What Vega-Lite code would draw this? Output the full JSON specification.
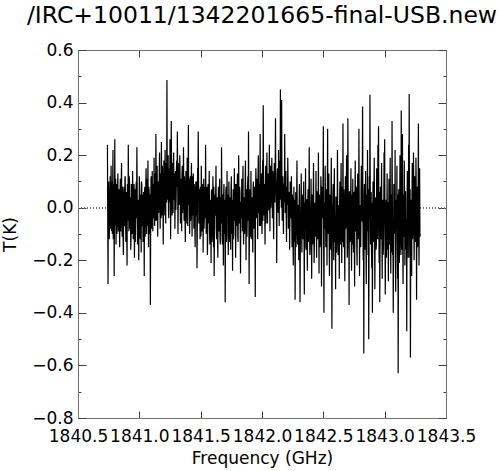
{
"$schema":"https://vega.github.io/schema/vega-lite/v6.json",
"autosize":{"type":"none"},
"padding":{"left":78,"top":50,"right":54,"bottom":53},
"width":368,"height":368,
"title":{"text":"/IRC+10011/1342201665-final-USB.new","font":"DejaVu Sans","fontSize":23.5,"fontWeight":"normal","color":"black","anchor":"middle","offset":14},
"data":{"values":[
{"f":1840.740,"t":0.24},{"f":1840.745,"t":-0.29},{"f":1840.750,"t":0.10},{"f":1840.755,"t":-0.12},{"f":1840.760,"t":0.05},{"f":1840.765,"t":-0.08},{"f":1840.770,"t":0.16},{"f":1840.775,"t":0.02},{"f":1840.780,"t":-0.10},{"f":1840.785,"t":0.22},{"f":1840.790,"t":-0.05},{"f":1840.795,"t":-0.26},{"f":1840.800,"t":0.26},{"f":1840.805,"t":0.03},{"f":1840.810,"t":-0.14},{"f":1840.815,"t":0.09},{"f":1840.820,"t":-0.03},{"f":1840.825,"t":0.13},{"f":1840.830,"t":-0.09},{"f":1840.835,"t":0.07},
{"f":1840.840,"t":-0.15},{"f":1840.845,"t":0.11},{"f":1840.850,"t":-0.02},{"f":1840.855,"t":0.17},{"f":1840.860,"t":-0.11},{"f":1840.865,"t":0.04},{"f":1840.870,"t":-0.18},{"f":1840.875,"t":0.08},{"f":1840.880,"t":-0.06},{"f":1840.885,"t":0.12},{"f":1840.890,"t":-0.13},{"f":1840.895,"t":0.02},{"f":1840.900,"t":-0.22},{"f":1840.905,"t":0.06},{"f":1840.910,"t":0.24},{"f":1840.915,"t":-0.09},{"f":1840.920,"t":0.10},{"f":1840.925,"t":-0.04},{"f":1840.930,"t":-0.16},{"f":1840.935,"t":0.09},
{"f":1840.940,"t":-0.07},{"f":1840.945,"t":0.14},{"f":1840.950,"t":-0.12},{"f":1840.955,"t":0.03},{"f":1840.960,"t":-0.19},{"f":1840.965,"t":0.07},{"f":1840.970,"t":-0.05},{"f":1840.975,"t":0.10},{"f":1840.980,"t":0.23},{"f":1840.985,"t":-0.14},{"f":1840.990,"t":0.01},{"f":1840.995,"t":-0.20},{"f":1841.000,"t":0.12},{"f":1841.005,"t":-0.08},{"f":1841.010,"t":0.05},{"f":1841.015,"t":-0.17},{"f":1841.020,"t":0.09},{"f":1841.025,"t":-0.03},{"f":1841.030,"t":-0.13},{"f":1841.035,"t":0.06},
{"f":1841.040,"t":-0.26},{"f":1841.045,"t":0.08},{"f":1841.050,"t":-0.06},{"f":1841.055,"t":0.15},{"f":1841.060,"t":-0.10},{"f":1841.065,"t":0.03},{"f":1841.070,"t":0.18},{"f":1841.075,"t":-0.15},{"f":1841.080,"t":0.06},{"f":1841.085,"t":-0.04},{"f":1841.090,"t":-0.37},{"f":1841.095,"t":0.11},{"f":1841.100,"t":-0.02},{"f":1841.105,"t":0.14},{"f":1841.110,"t":-0.09},{"f":1841.115,"t":0.07},{"f":1841.120,"t":0.19},{"f":1841.125,"t":-0.07},{"f":1841.130,"t":0.04},{"f":1841.135,"t":0.28},
{"f":1841.140,"t":-0.05},{"f":1841.145,"t":0.16},{"f":1841.150,"t":-0.11},{"f":1841.155,"t":0.10},{"f":1841.160,"t":0.02},{"f":1841.165,"t":0.21},{"f":1841.170,"t":-0.08},{"f":1841.175,"t":0.13},{"f":1841.180,"t":0.25},{"f":1841.185,"t":-0.03},{"f":1841.190,"t":0.09},{"f":1841.195,"t":-0.14},{"f":1841.200,"t":0.18},{"f":1841.205,"t":0.04},{"f":1841.210,"t":0.22},{"f":1841.215,"t":-0.06},{"f":1841.220,"t":0.12},{"f":1841.225,"t":0.486},{"f":1841.230,"t":0.03},{"f":1841.235,"t":0.20},
{"f":1841.240,"t":-0.04},{"f":1841.245,"t":0.15},{"f":1841.250,"t":0.26},{"f":1841.255,"t":-0.12},{"f":1841.260,"t":0.33},{"f":1841.265,"t":0.06},{"f":1841.270,"t":0.17},{"f":1841.275,"t":-0.02},{"f":1841.280,"t":0.21},{"f":1841.285,"t":0.09},{"f":1841.290,"t":-0.08},{"f":1841.295,"t":0.14},{"f":1841.300,"t":0.03},{"f":1841.305,"t":0.18},{"f":1841.310,"t":0.29},{"f":1841.315,"t":-0.10},{"f":1841.320,"t":0.12},{"f":1841.325,"t":0.01},{"f":1841.330,"t":0.20},{"f":1841.335,"t":-0.06},
{"f":1841.340,"t":0.11},{"f":1841.345,"t":-0.09},{"f":1841.350,"t":0.16},{"f":1841.355,"t":0.02},{"f":1841.360,"t":0.23},{"f":1841.365,"t":-0.05},{"f":1841.370,"t":0.08},{"f":1841.375,"t":-0.13},{"f":1841.380,"t":0.14},{"f":1841.385,"t":0.00},{"f":1841.390,"t":0.19},{"f":1841.395,"t":-0.07},{"f":1841.400,"t":0.315},{"f":1841.405,"t":0.05},{"f":1841.410,"t":-0.10},{"f":1841.415,"t":0.12},{"f":1841.420,"t":-0.02},{"f":1841.425,"t":0.17},{"f":1841.430,"t":-0.11},{"f":1841.435,"t":0.06},
{"f":1841.440,"t":0.13},{"f":1841.445,"t":-0.08},{"f":1841.450,"t":0.04},{"f":1841.455,"t":-0.15},{"f":1841.460,"t":0.10},{"f":1841.465,"t":-0.03},{"f":1841.470,"t":-0.23},{"f":1841.475,"t":0.15},{"f":1841.480,"t":0.29},{"f":1841.485,"t":-0.06},{"f":1841.490,"t":0.07},{"f":1841.495,"t":-0.12},{"f":1841.500,"t":0.02},{"f":1841.505,"t":0.16},{"f":1841.510,"t":-0.09},{"f":1841.515,"t":0.05},{"f":1841.520,"t":-0.17},{"f":1841.525,"t":0.11},{"f":1841.530,"t":-0.04},{"f":1841.535,"t":0.08},
{"f":1841.540,"t":0.24},{"f":1841.545,"t":-0.10},{"f":1841.550,"t":0.03},{"f":1841.555,"t":-0.18},{"f":1841.560,"t":0.09},{"f":1841.565,"t":-0.06},{"f":1841.570,"t":0.14},{"f":1841.575,"t":-0.14},{"f":1841.580,"t":0.00},{"f":1841.585,"t":-0.21},{"f":1841.590,"t":0.07},{"f":1841.595,"t":-0.09},{"f":1841.600,"t":0.12},{"f":1841.605,"t":-0.15},{"f":1841.610,"t":-0.26},{"f":1841.615,"t":0.05},{"f":1841.620,"t":-0.03},{"f":1841.625,"t":0.16},{"f":1841.630,"t":-0.12},{"f":1841.635,"t":0.02},
{"f":1841.640,"t":-0.19},{"f":1841.645,"t":0.08},{"f":1841.650,"t":-0.07},{"f":1841.655,"t":0.11},{"f":1841.660,"t":-0.14},{"f":1841.665,"t":0.01},{"f":1841.670,"t":0.23},{"f":1841.675,"t":-0.11},{"f":1841.680,"t":0.05},{"f":1841.685,"t":-0.22},{"f":1841.690,"t":0.09},{"f":1841.695,"t":-0.05},{"f":1841.700,"t":-0.36},{"f":1841.705,"t":0.06},{"f":1841.710,"t":-0.13},{"f":1841.715,"t":0.14},{"f":1841.720,"t":-0.02},{"f":1841.725,"t":-0.18},{"f":1841.730,"t":0.10},{"f":1841.735,"t":-0.08},
{"f":1841.740,"t":0.04},{"f":1841.745,"t":-0.16},{"f":1841.750,"t":0.12},{"f":1841.755,"t":-0.05},{"f":1841.760,"t":-0.24},{"f":1841.765,"t":0.07},{"f":1841.770,"t":-0.10},{"f":1841.775,"t":0.15},{"f":1841.780,"t":-0.02},{"f":1841.785,"t":-0.19},{"f":1841.790,"t":0.09},{"f":1841.795,"t":-0.07},{"f":1841.800,"t":0.13},{"f":1841.805,"t":-0.13},{"f":1841.810,"t":0.20},{"f":1841.815,"t":-0.04},{"f":1841.820,"t":0.06},{"f":1841.825,"t":-0.25},{"f":1841.830,"t":0.02},{"f":1841.835,"t":0.11},
{"f":1841.840,"t":-0.09},{"f":1841.845,"t":0.16},{"f":1841.850,"t":-0.14},{"f":1841.855,"t":0.03},{"f":1841.860,"t":-0.06},{"f":1841.865,"t":0.18},{"f":1841.870,"t":-0.20},{"f":1841.875,"t":0.07},{"f":1841.880,"t":-0.03},{"f":1841.885,"t":0.12},{"f":1841.890,"t":0.29},{"f":1841.895,"t":-0.29},{"f":1841.900,"t":0.05},{"f":1841.905,"t":-0.11},{"f":1841.910,"t":0.14},{"f":1841.915,"t":-0.08},{"f":1841.920,"t":0.01},{"f":1841.925,"t":-0.17},{"f":1841.930,"t":0.10},{"f":1841.935,"t":-0.04},
{"f":1841.940,"t":0.08},{"f":1841.945,"t":-0.34},{"f":1841.950,"t":0.15},{"f":1841.955,"t":-0.02},{"f":1841.960,"t":0.11},{"f":1841.965,"t":-0.12},{"f":1841.970,"t":0.20},{"f":1841.975,"t":0.04},{"f":1841.980,"t":-0.07},{"f":1841.985,"t":0.28},{"f":1841.990,"t":-0.05},{"f":1841.995,"t":0.13},{"f":1842.000,"t":-0.10},{"f":1842.005,"t":0.18},{"f":1842.010,"t":0.39},{"f":1842.015,"t":-0.03},{"f":1842.020,"t":0.09},{"f":1842.025,"t":-0.14},{"f":1842.030,"t":0.16},{"f":1842.035,"t":0.02},
{"f":1842.040,"t":0.21},{"f":1842.045,"t":-0.06},{"f":1842.050,"t":0.13},{"f":1842.055,"t":0.00},{"f":1842.060,"t":0.24},{"f":1842.065,"t":-0.09},{"f":1842.070,"t":0.15},{"f":1842.075,"t":0.05},{"f":1842.080,"t":0.19},{"f":1842.085,"t":-0.04},{"f":1842.090,"t":0.11},{"f":1842.095,"t":-0.12},{"f":1842.100,"t":0.17},{"f":1842.105,"t":0.02},{"f":1842.110,"t":0.34},{"f":1842.115,"t":0.08},{"f":1842.120,"t":-0.21},{"f":1842.125,"t":0.14},{"f":1842.130,"t":0.03},{"f":1842.135,"t":0.22},
{"f":1842.140,"t":-0.07},{"f":1842.145,"t":0.18},{"f":1842.150,"t":0.45},{"f":1842.155,"t":0.06},{"f":1842.160,"t":0.41},{"f":1842.165,"t":-0.05},{"f":1842.170,"t":0.12},{"f":1842.175,"t":-0.10},{"f":1842.180,"t":0.09},{"f":1842.185,"t":0.28},{"f":1842.190,"t":-0.02},{"f":1842.195,"t":0.14},{"f":1842.200,"t":-0.13},{"f":1842.205,"t":0.07},{"f":1842.210,"t":0.19},{"f":1842.215,"t":-0.08},{"f":1842.220,"t":0.04},{"f":1842.225,"t":-0.16},{"f":1842.230,"t":0.10},{"f":1842.235,"t":-0.04},
{"f":1842.240,"t":0.12},{"f":1842.245,"t":-0.15},{"f":1842.250,"t":0.02},{"f":1842.255,"t":-0.22},{"f":1842.260,"t":0.08},{"f":1842.265,"t":-0.09},{"f":1842.270,"t":-0.35},{"f":1842.275,"t":0.06},{"f":1842.280,"t":-0.03},{"f":1842.285,"t":0.18},{"f":1842.290,"t":-0.14},{"f":1842.295,"t":0.01},{"f":1842.300,"t":-0.20},{"f":1842.305,"t":0.09},{"f":1842.310,"t":-0.36},{"f":1842.315,"t":-0.05},{"f":1842.320,"t":0.13},{"f":1842.325,"t":-0.17},{"f":1842.330,"t":0.04},{"f":1842.335,"t":-0.11},
{"f":1842.340,"t":0.10},{"f":1842.345,"t":-0.33},{"f":1842.350,"t":-0.02},{"f":1842.355,"t":0.15},{"f":1842.360,"t":-0.16},{"f":1842.365,"t":0.03},{"f":1842.370,"t":-0.24},{"f":1842.375,"t":0.07},{"f":1842.380,"t":-0.08},{"f":1842.385,"t":0.23},{"f":1842.390,"t":-0.18},{"f":1842.395,"t":-0.04},{"f":1842.400,"t":0.11},{"f":1842.405,"t":-0.27},{"f":1842.410,"t":0.05},{"f":1842.415,"t":-0.12},{"f":1842.420,"t":0.17},{"f":1842.425,"t":-0.21},{"f":1842.430,"t":0.00},{"f":1842.435,"t":-0.09},
{"f":1842.440,"t":0.14},{"f":1842.445,"t":-0.19},{"f":1842.450,"t":0.06},{"f":1842.455,"t":-0.08},{"f":1842.460,"t":0.21},{"f":1842.465,"t":-0.25},{"f":1842.470,"t":0.03},{"f":1842.475,"t":-0.13},{"f":1842.480,"t":0.12},{"f":1842.485,"t":-0.30},{"f":1842.490,"t":0.08},{"f":1842.495,"t":-0.02},{"f":1842.500,"t":0.31},{"f":1842.505,"t":-0.40},{"f":1842.510,"t":0.02},{"f":1842.515,"t":0.16},{"f":1842.520,"t":-0.15},{"f":1842.525,"t":0.07},{"f":1842.530,"t":-0.22},{"f":1842.535,"t":0.30},
{"f":1842.540,"t":-0.10},{"f":1842.545,"t":0.13},{"f":1842.550,"t":-0.26},{"f":1842.555,"t":0.05},{"f":1842.560,"t":-0.14},{"f":1842.565,"t":0.19},{"f":1842.570,"t":-0.46},{"f":1842.575,"t":-0.03},{"f":1842.580,"t":0.09},{"f":1842.585,"t":-0.20},{"f":1842.590,"t":0.15},{"f":1842.595,"t":-0.08},{"f":1842.600,"t":-0.31},{"f":1842.605,"t":0.04},{"f":1842.610,"t":-0.12},{"f":1842.615,"t":0.22},{"f":1842.620,"t":-0.18},{"f":1842.625,"t":0.01},{"f":1842.630,"t":-0.27},{"f":1842.635,"t":0.10},
{"f":1842.640,"t":-0.06},{"f":1842.645,"t":0.17},{"f":1842.650,"t":-0.21},{"f":1842.655,"t":0.08},{"f":1842.660,"t":0.32},{"f":1842.665,"t":-0.15},{"f":1842.670,"t":0.02},{"f":1842.675,"t":-0.28},{"f":1842.680,"t":0.12},{"f":1842.685,"t":-0.04},{"f":1842.690,"t":0.20},{"f":1842.695,"t":-0.19},{"f":1842.700,"t":0.34},{"f":1842.705,"t":-0.09},{"f":1842.710,"t":-0.37},{"f":1842.715,"t":0.06},{"f":1842.720,"t":-0.13},{"f":1842.725,"t":0.15},{"f":1842.730,"t":-0.24},{"f":1842.735,"t":0.03},
{"f":1842.740,"t":0.11},{"f":1842.745,"t":-0.17},{"f":1842.750,"t":0.05},{"f":1842.755,"t":-0.30},{"f":1842.760,"t":0.18},{"f":1842.765,"t":-0.08},{"f":1842.770,"t":0.07},{"f":1842.775,"t":-0.22},{"f":1842.780,"t":0.13},{"f":1842.785,"t":-0.12},{"f":1842.790,"t":0.30},{"f":1842.795,"t":-0.26},{"f":1842.800,"t":0.01},{"f":1842.805,"t":-0.15},{"f":1842.810,"t":0.16},{"f":1842.815,"t":-0.05},{"f":1842.820,"t":0.385},{"f":1842.825,"t":-0.20},{"f":1842.830,"t":-0.555},{"f":1842.835,"t":0.09},
{"f":1842.840,"t":-0.11},{"f":1842.845,"t":0.14},{"f":1842.850,"t":-0.29},{"f":1842.855,"t":0.04},{"f":1842.860,"t":0.22},{"f":1842.865,"t":-0.18},{"f":1842.870,"t":-0.50},{"f":1842.875,"t":0.12},{"f":1842.880,"t":0.43},{"f":1842.885,"t":-0.14},{"f":1842.890,"t":0.06},{"f":1842.895,"t":-0.23},{"f":1842.900,"t":-0.40},{"f":1842.905,"t":0.10},{"f":1842.910,"t":-0.07},{"f":1842.915,"t":0.19},{"f":1842.920,"t":-0.31},{"f":1842.925,"t":0.02},{"f":1842.930,"t":-0.16},{"f":1842.935,"t":0.15},
{"f":1842.940,"t":-0.05},{"f":1842.945,"t":0.24},{"f":1842.950,"t":0.31},{"f":1842.955,"t":-0.21},{"f":1842.960,"t":-0.36},{"f":1842.965,"t":0.08},{"f":1842.970,"t":-0.12},{"f":1842.975,"t":0.17},{"f":1842.980,"t":-0.27},{"f":1842.985,"t":0.03},{"f":1842.990,"t":-0.15},{"f":1842.995,"t":0.21},{"f":1843.000,"t":0.26},{"f":1843.005,"t":-0.33},{"f":1843.010,"t":0.00},{"f":1843.015,"t":-0.19},{"f":1843.020,"t":0.13},{"f":1843.025,"t":-0.09},{"f":1843.030,"t":-0.28},{"f":1843.035,"t":0.11},
{"f":1843.040,"t":-0.14},{"f":1843.045,"t":0.19},{"f":1843.050,"t":-0.25},{"f":1843.055,"t":0.05},{"f":1843.060,"t":0.33},{"f":1843.065,"t":-0.18},{"f":1843.070,"t":-0.40},{"f":1843.075,"t":0.09},{"f":1843.080,"t":-0.08},{"f":1843.085,"t":0.22},{"f":1843.090,"t":-0.32},{"f":1843.095,"t":-0.02},{"f":1843.100,"t":0.16},{"f":1843.105,"t":-0.27},{"f":1843.110,"t":-0.63},{"f":1843.115,"t":0.07},{"f":1843.120,"t":-0.21},{"f":1843.125,"t":0.20},{"f":1843.130,"t":-0.12},{"f":1843.135,"t":0.37},
{"f":1843.140,"t":-0.16},{"f":1843.145,"t":0.28},{"f":1843.150,"t":-0.29},{"f":1843.155,"t":0.01},{"f":1843.160,"t":0.18},{"f":1843.165,"t":-0.22},{"f":1843.170,"t":0.06},{"f":1843.175,"t":-0.13},{"f":1843.180,"t":-0.47},{"f":1843.185,"t":0.14},{"f":1843.190,"t":-0.06},{"f":1843.195,"t":0.24},{"f":1843.200,"t":0.433},{"f":1843.205,"t":-0.19},{"f":1843.210,"t":-0.57},{"f":1843.215,"t":0.03},{"f":1843.220,"t":-0.26},{"f":1843.225,"t":0.17},{"f":1843.230,"t":-0.09},{"f":1843.235,"t":0.21},
{"f":1843.240,"t":-0.20},{"f":1843.245,"t":0.12},{"f":1843.250,"t":-0.04},{"f":1843.255,"t":0.19},{"f":1843.260,"t":-0.35},{"f":1843.265,"t":0.08},{"f":1843.270,"t":-0.14},{"f":1843.275,"t":0.32},{"f":1843.280,"t":-0.22},{"f":1843.285,"t":0.15},{"f":1843.290,"t":-0.10},
{"f":1840.7425,"t":-0.06},{"f":1840.7475,"t":0.08},{"f":1840.7525,"t":-0.11},{"f":1840.7575,"t":0.04},{"f":1840.7625,"t":0.12},{"f":1840.7675,"t":-0.03},{"f":1840.7725,"t":-0.09},{"f":1840.7775,"t":0.10},{"f":1840.7825,"t":0.06},{"f":1840.7875,"t":-0.12},{"f":1840.7925,"t":0.09},{"f":1840.7975,"t":0.01},{"f":1840.8025,"t":-0.07},{"f":1840.8075,"t":0.11},{"f":1840.8125,"t":0.04},{"f":1840.8175,"t":-0.10},{"f":1840.8225,"t":0.07},{"f":1840.8275,"t":-0.05},{"f":1840.8325,"t":0.03},{"f":1840.8375,"t":-0.08},
{"f":1840.8425,"t":0.05},{"f":1840.8475,"t":-0.09},{"f":1840.8525,"t":0.10},{"f":1840.8575,"t":-0.04},{"f":1840.8625,"t":0.08},{"f":1840.8675,"t":-0.12},{"f":1840.8725,"t":0.02},{"f":1840.8775,"t":-0.07},{"f":1840.8825,"t":0.11},{"f":1840.8875,"t":-0.02},{"f":1840.8925,"t":0.06},{"f":1840.8975,"t":-0.10},{"f":1840.9025,"t":0.09},{"f":1840.9075,"t":-0.05},{"f":1840.9125,"t":0.03},{"f":1840.9175,"t":0.12},{"f":1840.9225,"t":-0.08},{"f":1840.9275,"t":0.04},{"f":1840.9325,"t":-0.11},{"f":1840.9375,"t":0.01},
{"f":1840.9425,"t":-0.10},{"f":1840.9475,"t":0.05},{"f":1840.9525,"t":-0.03},{"f":1840.9575,"t":0.09},{"f":1840.9625,"t":-0.08},{"f":1840.9675,"t":-0.13},{"f":1840.9725,"t":0.06},{"f":1840.9775,"t":-0.04},{"f":1840.9825,"t":0.08},{"f":1840.9875,"t":-0.09},{"f":1840.9925,"t":0.03},{"f":1840.9975,"t":-0.06},{"f":1841.0025,"t":0.07},{"f":1841.0075,"t":-0.12},{"f":1841.0125,"t":0.02},{"f":1841.0175,"t":0.10},{"f":1841.0225,"t":-0.07},{"f":1841.0275,"t":0.05},{"f":1841.0325,"t":-0.10},{"f":1841.0375,"t":-0.01},
{"f":1841.0425,"t":0.06},{"f":1841.0475,"t":-0.11},{"f":1841.0525,"t":0.09},{"f":1841.0575,"t":-0.03},{"f":1841.0625,"t":0.11},{"f":1841.0675,"t":-0.07},{"f":1841.0725,"t":0.02},{"f":1841.0775,"t":0.08},{"f":1841.0825,"t":-0.10},{"f":1841.0875,"t":0.05},{"f":1841.0925,"t":-0.06},{"f":1841.0975,"t":0.12},{"f":1841.1025,"t":-0.08},{"f":1841.1075,"t":0.03},{"f":1841.1125,"t":0.09},{"f":1841.1175,"t":-0.04},{"f":1841.1225,"t":0.07},{"f":1841.1275,"t":0.13},{"f":1841.1325,"t":-0.05},{"f":1841.1375,"t":0.10},
{"f":1841.1425,"t":0.12},{"f":1841.1475,"t":0.00},{"f":1841.1525,"t":0.08},{"f":1841.1575,"t":-0.02},{"f":1841.1625,"t":0.15},{"f":1841.1675,"t":0.04},{"f":1841.1725,"t":0.11},{"f":1841.1775,"t":-0.04},{"f":1841.1825,"t":0.07},{"f":1841.1875,"t":0.16},{"f":1841.1925,"t":0.01},{"f":1841.1975,"t":0.09},{"f":1841.2025,"t":-0.03},{"f":1841.2075,"t":0.13},{"f":1841.2125,"t":0.06},{"f":1841.2175,"t":0.17},{"f":1841.2225,"t":0.02},{"f":1841.2275,"t":0.10},{"f":1841.2325,"t":0.15},{"f":1841.2375,"t":-0.01},
{"f":1841.2425,"t":0.09},{"f":1841.2475,"t":0.02},{"f":1841.2525,"t":0.14},{"f":1841.2575,"t":0.05},{"f":1841.2625,"t":0.18},{"f":1841.2675,"t":-0.03},{"f":1841.2725,"t":0.11},{"f":1841.2775,"t":0.16},{"f":1841.2825,"t":0.03},{"f":1841.2875,"t":0.13},{"f":1841.2925,"t":0.07},{"f":1841.2975,"t":-0.01},{"f":1841.3025,"t":0.15},{"f":1841.3075,"t":0.08},{"f":1841.3125,"t":0.12},{"f":1841.3175,"t":0.02},{"f":1841.3225,"t":0.17},{"f":1841.3275,"t":0.06},{"f":1841.3325,"t":0.10},{"f":1841.3375,"t":0.01},
{"f":1841.3425,"t":0.07},{"f":1841.3475,"t":0.13},{"f":1841.3525,"t":-0.02},{"f":1841.3575,"t":0.09},{"f":1841.3625,"t":0.04},{"f":1841.3675,"t":0.12},{"f":1841.3725,"t":-0.04},{"f":1841.3775,"t":0.06},{"f":1841.3825,"t":0.10},{"f":1841.3875,"t":-0.06},{"f":1841.3925,"t":0.08},{"f":1841.3975,"t":0.14},{"f":1841.4025,"t":0.01},{"f":1841.4075,"t":0.11},{"f":1841.4125,"t":0.03},{"f":1841.4175,"t":-0.05},{"f":1841.4225,"t":0.09},{"f":1841.4275,"t":0.02},{"f":1841.4325,"t":0.12},{"f":1841.4375,"t":-0.03},
{"f":1841.4425,"t":0.03},{"f":1841.4475,"t":0.09},{"f":1841.4525,"t":-0.07},{"f":1841.4575,"t":0.05},{"f":1841.4625,"t":-0.02},{"f":1841.4675,"t":0.10},{"f":1841.4725,"t":-0.09},{"f":1841.4775,"t":0.04},{"f":1841.4825,"t":0.12},{"f":1841.4875,"t":-0.05},{"f":1841.4925,"t":0.01},{"f":1841.4975,"t":0.08},{"f":1841.5025,"t":-0.11},{"f":1841.5075,"t":0.06},{"f":1841.5125,"t":-0.03},{"f":1841.5175,"t":0.09},{"f":1841.5225,"t":0.02},{"f":1841.5275,"t":-0.08},{"f":1841.5325,"t":0.07},{"f":1841.5375,"t":-0.04},
{"f":1841.5425,"t":0.05},{"f":1841.5475,"t":-0.07},{"f":1841.5525,"t":0.08},{"f":1841.5575,"t":-0.11},{"f":1841.5625,"t":-0.01},{"f":1841.5675,"t":0.07},{"f":1841.5725,"t":-0.09},{"f":1841.5775,"t":0.03},{"f":1841.5825,"t":-0.06},{"f":1841.5875,"t":0.06},{"f":1841.5925,"t":-0.13},{"f":1841.5975,"t":0.02},{"f":1841.6025,"t":-0.04},{"f":1841.6075,"t":0.08},{"f":1841.6125,"t":-0.10},{"f":1841.6175,"t":-0.02},{"f":1841.6225,"t":0.06},{"f":1841.6275,"t":-0.08},{"f":1841.6325,"t":0.04},{"f":1841.6375,"t":-0.12},
{"f":1841.6425,"t":0.02},{"f":1841.6475,"t":-0.09},{"f":1841.6525,"t":0.06},{"f":1841.6575,"t":-0.12},{"f":1841.6625,"t":0.04},{"f":1841.6675,"t":-0.06},{"f":1841.6725,"t":0.07},{"f":1841.6775,"t":-0.14},{"f":1841.6825,"t":-0.01},{"f":1841.6875,"t":0.05},{"f":1841.6925,"t":-0.10},{"f":1841.6975,"t":0.03},{"f":1841.7025,"t":-0.07},{"f":1841.7075,"t":0.08},{"f":1841.7125,"t":-0.11},{"f":1841.7175,"t":-0.03},{"f":1841.7225,"t":0.05},{"f":1841.7275,"t":-0.09},{"f":1841.7325,"t":0.02},{"f":1841.7375,"t":-0.13},
{"f":1841.7425,"t":-0.06},{"f":1841.7475,"t":0.07},{"f":1841.7525,"t":-0.10},{"f":1841.7575,"t":0.03},{"f":1841.7625,"t":-0.02},{"f":1841.7675,"t":-0.12},{"f":1841.7725,"t":0.06},{"f":1841.7775,"t":-0.05},{"f":1841.7825,"t":0.09},{"f":1841.7875,"t":-0.08},{"f":1841.7925,"t":0.01},{"f":1841.7975,"t":0.06},{"f":1841.8025,"t":-0.11},{"f":1841.8075,"t":0.04},{"f":1841.8125,"t":-0.06},{"f":1841.8175,"t":0.08},{"f":1841.8225,"t":-0.09},{"f":1841.8275,"t":0.02},{"f":1841.8325,"t":-0.04},{"f":1841.8375,"t":0.05},
{"f":1841.8425,"t":0.06},{"f":1841.8475,"t":-0.07},{"f":1841.8525,"t":0.04},{"f":1841.8575,"t":-0.10},{"f":1841.8625,"t":0.09},{"f":1841.8675,"t":-0.02},{"f":1841.8725,"t":0.05},{"f":1841.8775,"t":-0.11},{"f":1841.8825,"t":0.08},{"f":1841.8875,"t":-0.05},{"f":1841.8925,"t":0.02},{"f":1841.8975,"t":-0.09},{"f":1841.9025,"t":0.07},{"f":1841.9075,"t":-0.03},{"f":1841.9125,"t":-0.12},{"f":1841.9175,"t":0.04},{"f":1841.9225,"t":-0.06},{"f":1841.9275,"t":0.08},{"f":1841.9325,"t":-0.08},{"f":1841.9375,"t":0.03},
{"f":1841.9425,"t":-0.06},{"f":1841.9475,"t":0.06},{"f":1841.9525,"t":0.10},{"f":1841.9575,"t":-0.04},{"f":1841.9625,"t":0.05},{"f":1841.9675,"t":0.12},{"f":1841.9725,"t":-0.02},{"f":1841.9775,"t":0.09},{"f":1841.9825,"t":0.03},{"f":1841.9875,"t":-0.07},{"f":1841.9925,"t":0.11},{"f":1841.9975,"t":0.00},{"f":1842.0025,"t":0.07},{"f":1842.0075,"t":-0.05},{"f":1842.0125,"t":0.13},{"f":1842.0175,"t":0.04},{"f":1842.0225,"t":-0.03},{"f":1842.0275,"t":0.08},{"f":1842.0325,"t":-0.06},{"f":1842.0375,"t":0.10},
{"f":1842.0425,"t":0.04},{"f":1842.0475,"t":0.12},{"f":1842.0525,"t":-0.01},{"f":1842.0575,"t":0.09},{"f":1842.0625,"t":0.05},{"f":1842.0675,"t":0.16},{"f":1842.0725,"t":0.00},{"f":1842.0775,"t":0.11},{"f":1842.0825,"t":0.07},{"f":1842.0875,"t":0.14},{"f":1842.0925,"t":-0.03},{"f":1842.0975,"t":0.08},{"f":1842.1025,"t":0.03},{"f":1842.1075,"t":0.13},{"f":1842.1125,"t":0.10},{"f":1842.1175,"t":0.01},{"f":1842.1225,"t":0.09},{"f":1842.1275,"t":0.15},{"f":1842.1325,"t":-0.02},{"f":1842.1375,"t":0.06},
{"f":1842.1425,"t":0.10},{"f":1842.1475,"t":0.03},{"f":1842.1525,"t":0.14},{"f":1842.1575,"t":0.00},{"f":1842.1625,"t":0.12},{"f":1842.1675,"t":0.07},{"f":1842.1725,"t":-0.03},{"f":1842.1775,"t":0.09},{"f":1842.1825,"t":0.02},{"f":1842.1875,"t":0.11},{"f":1842.1925,"t":0.05},{"f":1842.1975,"t":-0.04},{"f":1842.2025,"t":0.08},{"f":1842.2075,"t":0.01},{"f":1842.2125,"t":0.10},{"f":1842.2175,"t":-0.02},{"f":1842.2225,"t":0.06},{"f":1842.2275,"t":-0.05},{"f":1842.2325,"t":0.03},{"f":1842.2375,"t":0.07},
{"f":1842.2425,"t":-0.04},{"f":1842.2475,"t":0.05},{"f":1842.2525,"t":-0.10},{"f":1842.2575,"t":-0.02},{"f":1842.2625,"t":-0.13},{"f":1842.2675,"t":0.03},{"f":1842.2725,"t":-0.08},{"f":1842.2775,"t":-0.15},{"f":1842.2825,"t":0.04},{"f":1842.2875,"t":-0.07},{"f":1842.2925,"t":-0.01},{"f":1842.2975,"t":-0.11},{"f":1842.3025,"t":0.02},{"f":1842.3075,"t":-0.09},{"f":1842.3125,"t":-0.14},{"f":1842.3175,"t":0.01},{"f":1842.3225,"t":-0.06},{"f":1842.3275,"t":0.05},{"f":1842.3325,"t":-0.12},{"f":1842.3375,"t":-0.03},
{"f":1842.3425,"t":-0.12},{"f":1842.3475,"t":0.02},{"f":1842.3525,"t":-0.08},{"f":1842.3575,"t":-0.15},{"f":1842.3625,"t":0.03},{"f":1842.3675,"t":-0.10},{"f":1842.3725,"t":-0.01},{"f":1842.3775,"t":-0.13},{"f":1842.3825,"t":0.05},{"f":1842.3875,"t":-0.06},{"f":1842.3925,"t":-0.16},{"f":1842.3975,"t":0.01},{"f":1842.4025,"t":-0.09},{"f":1842.4075,"t":-0.02},{"f":1842.4125,"t":-0.14},{"f":1842.4175,"t":0.04},{"f":1842.4225,"t":-0.07},{"f":1842.4275,"t":-0.12},{"f":1842.4325,"t":0.02},{"f":1842.4375,"t":-0.11},
{"f":1842.4425,"t":-0.03},{"f":1842.4475,"t":0.06},{"f":1842.4525,"t":-0.12},{"f":1842.4575,"t":0.02},{"f":1842.4625,"t":-0.07},{"f":1842.4675,"t":0.05},{"f":1842.4725,"t":-0.15},{"f":1842.4775,"t":-0.01},{"f":1842.4825,"t":0.07},{"f":1842.4875,"t":-0.10},{"f":1842.4925,"t":-0.04},{"f":1842.4975,"t":0.09},{"f":1842.5025,"t":-0.13},{"f":1842.5075,"t":0.01},{"f":1842.5125,"t":-0.08},{"f":1842.5175,"t":0.04},{"f":1842.5225,"t":-0.11},{"f":1842.5275,"t":-0.02},{"f":1842.5325,"t":0.06},{"f":1842.5375,"t":-0.09},
{"f":1842.5425,"t":0.03},{"f":1842.5475,"t":-0.12},{"f":1842.5525,"t":-0.01},{"f":1842.5575,"t":-0.16},{"f":1842.5625,"t":0.05},{"f":1842.5675,"t":-0.08},{"f":1842.5725,"t":-0.14},{"f":1842.5775,"t":0.02},{"f":1842.5825,"t":-0.10},{"f":1842.5875,"t":0.06},{"f":1842.5925,"t":-0.13},{"f":1842.5975,"t":-0.03},{"f":1842.6025,"t":0.04},{"f":1842.6075,"t":-0.17},{"f":1842.6125,"t":-0.05},{"f":1842.6175,"t":0.03},{"f":1842.6225,"t":-0.11},{"f":1842.6275,"t":-0.02},{"f":1842.6325,"t":0.01},{"f":1842.6375,"t":-0.14},
{"f":1842.6425,"t":0.05},{"f":1842.6475,"t":-0.10},{"f":1842.6525,"t":0.02},{"f":1842.6575,"t":-0.13},{"f":1842.6625,"t":-0.04},{"f":1842.6675,"t":0.07},{"f":1842.6725,"t":-0.11},{"f":1842.6775,"t":0.00},{"f":1842.6825,"t":-0.08},{"f":1842.6875,"t":0.09},{"f":1842.6925,"t":-0.02},{"f":1842.6975,"t":-0.15},{"f":1842.7025,"t":0.04},{"f":1842.7075,"t":-0.07},{"f":1842.7125,"t":0.06},{"f":1842.7175,"t":-0.12},{"f":1842.7225,"t":0.01},{"f":1842.7275,"t":-0.09},{"f":1842.7325,"t":0.05},{"f":1842.7375,"t":-0.14},
{"f":1842.7425,"t":-0.04},{"f":1842.7475,"t":0.06},{"f":1842.7525,"t":-0.12},{"f":1842.7575,"t":0.02},{"f":1842.7625,"t":-0.09},{"f":1842.7675,"t":0.08},{"f":1842.7725,"t":-0.15},{"f":1842.7775,"t":-0.02},{"f":1842.7825,"t":0.05},{"f":1842.7875,"t":-0.10},{"f":1842.7925,"t":0.03},{"f":1842.7975,"t":-0.07},{"f":1842.8025,"t":-0.13},{"f":1842.8075,"t":0.07},{"f":1842.8125,"t":-0.05},{"f":1842.8175,"t":0.10},{"f":1842.8225,"t":-0.01},{"f":1842.8275,"t":-0.11},{"f":1842.8325,"t":0.04},{"f":1842.8375,"t":-0.16},
{"f":1842.8425,"t":0.03},{"f":1842.8475,"t":-0.13},{"f":1842.8525,"t":0.05},{"f":1842.8575,"t":-0.09},{"f":1842.8625,"t":-0.02},{"f":1842.8675,"t":0.07},{"f":1842.8725,"t":-0.15},{"f":1842.8775,"t":-0.04},{"f":1842.8825,"t":0.08},{"f":1842.8875,"t":-0.11},{"f":1842.8925,"t":-0.17},{"f":1842.8975,"t":0.02},{"f":1842.9025,"t":-0.07},{"f":1842.9075,"t":-0.13},{"f":1842.9125,"t":0.06},{"f":1842.9175,"t":-0.05},{"f":1842.9225,"t":-0.10},{"f":1842.9275,"t":0.04},{"f":1842.9325,"t":-0.14},{"f":1842.9375,"t":-0.01},
{"f":1842.9425,"t":-0.12},{"f":1842.9475,"t":0.04},{"f":1842.9525,"t":-0.06},{"f":1842.9575,"t":0.06},{"f":1842.9625,"t":-0.15},{"f":1842.9675,"t":-0.03},{"f":1842.9725,"t":0.07},{"f":1842.9775,"t":-0.10},{"f":1842.9825,"t":0.02},{"f":1842.9875,"t":-0.18},{"f":1842.9925,"t":-0.05},{"f":1842.9975,"t":0.05},{"f":1843.0025,"t":-0.09},{"f":1843.0075,"t":-0.14},{"f":1843.0125,"t":0.03},{"f":1843.0175,"t":-0.07},{"f":1843.0225,"t":-0.16},{"f":1843.0275,"t":0.02},{"f":1843.0325,"t":-0.11},{"f":1843.0375,"t":-0.04},
{"f":1843.0425,"t":0.04},{"f":1843.0475,"t":-0.12},{"f":1843.0525,"t":-0.03},{"f":1843.0575,"t":-0.17},{"f":1843.0625,"t":0.06},{"f":1843.0675,"t":-0.09},{"f":1843.0725,"t":-0.14},{"f":1843.0775,"t":0.02},{"f":1843.0825,"t":-0.10},{"f":1843.0875,"t":-0.19},{"f":1843.0925,"t":0.03},{"f":1843.0975,"t":-0.08},{"f":1843.1025,"t":-0.13},{"f":1843.1075,"t":0.05},{"f":1843.1125,"t":-0.16},{"f":1843.1175,"t":-0.05},{"f":1843.1225,"t":0.01},{"f":1843.1275,"t":-0.11},{"f":1843.1325,"t":-0.18},{"f":1843.1375,"t":0.04},
{"f":1843.1425,"t":-0.07},{"f":1843.1475,"t":-0.15},{"f":1843.1525,"t":0.05},{"f":1843.1575,"t":-0.11},{"f":1843.1625,"t":-0.02},{"f":1843.1675,"t":0.06},{"f":1843.1725,"t":-0.16},{"f":1843.1775,"t":-0.04},{"f":1843.1825,"t":0.03},{"f":1843.1875,"t":-0.12},{"f":1843.1925,"t":-0.19},{"f":1843.1975,"t":0.02},{"f":1843.2025,"t":-0.09},{"f":1843.2075,"t":0.07},{"f":1843.2125,"t":-0.14},{"f":1843.2175,"t":-0.03},{"f":1843.2225,"t":0.04},{"f":1843.2275,"t":-0.12},{"f":1843.2325,"t":-0.06},{"f":1843.2375,"t":0.05},
{"f":1843.2425,"t":-0.09},{"f":1843.2475,"t":0.03},{"f":1843.2525,"t":-0.13},{"f":1843.2575,"t":0.06},{"f":1843.2625,"t":-0.05},{"f":1843.2675,"t":-0.15},{"f":1843.2725,"t":0.04},{"f":1843.2775,"t":-0.08},{"f":1843.2825,"t":0.02},{"f":1843.2875,"t":-0.11}
]},
"layer":[
{"mark":{"type":"rule","color":"#777777","strokeWidth":1,"strokeDash":[1,2]},
 "encoding":{
  "y":{"datum":0,"type":"quantitative","scale":{"domain":[-0.8,0.6],"nice":false,"zero":false},
       "axis":{"orient":"right","title":null,"labels":false,"values":[-0.8,-0.7,-0.6,-0.5,-0.4,-0.3,-0.2,-0.1,0,0.1,0.2,0.3,0.4,0.5,0.6],
        "tickSize":{"condition":{"test":"round(datum.value*10) % 2 == 0","value":-8},"value":-3}}},
  "x":{"datum":1840.5,"type":"quantitative","scale":{"domain":[1840.5,1843.5],"nice":false,"zero":false},"axis":{"orient":"top","title":null,"labels":false,"values":[1840.5,1841,1841.5,1842,1842.5,1843,1843.5],"tickSize":-7}},
  "x2":{"datum":1843.5}
 }},
{"mark":{"type":"line","color":"black","strokeWidth":1.2},
 "encoding":{
  "x":{"field":"f","type":"quantitative","scale":{"domain":[1840.5,1843.5],"nice":false,"zero":false},
       "axis":{"orient":"bottom","title":"Frequency (GHz)","values":[1840.5,1841,1841.5,1842,1842.5,1843,1843.5],"format":".1f","tickSize":-7,"labelPadding":17,"titlePadding":6}},
  "y":{"field":"t","type":"quantitative","scale":{"domain":[-0.8,0.6],"nice":false,"zero":false},
       "axis":{"orient":"left","title":"T(K)","values":[-0.8,-0.7,-0.6,-0.5,-0.4,-0.3,-0.2,-0.1,0,0.1,0.2,0.3,0.4,0.5,0.6],
        "labelExpr":"round(datum.value*10) % 2 == 0 ? format(datum.value, '.1f') : ''",
        "tickSize":{"condition":{"test":"round(datum.value*10) % 2 == 0","value":-8},"value":-3},
        "labelPadding":13,"titlePadding":12}}
 }}
],
"resolve":{"axis":{"x":"independent","y":"independent"}},
"config":{
 "view":{"stroke":null},
 "axis":{"labelFont":"DejaVu Sans","labelFontSize":17,"labelColor":"black","titleFont":"DejaVu Sans","titleFontSize":17,"titleFontWeight":"normal","titleColor":"black","domainColor":"#707070","tickColor":"#404040","grid":false,"labelOverlap":false,"labelFlush":false}
}
}
